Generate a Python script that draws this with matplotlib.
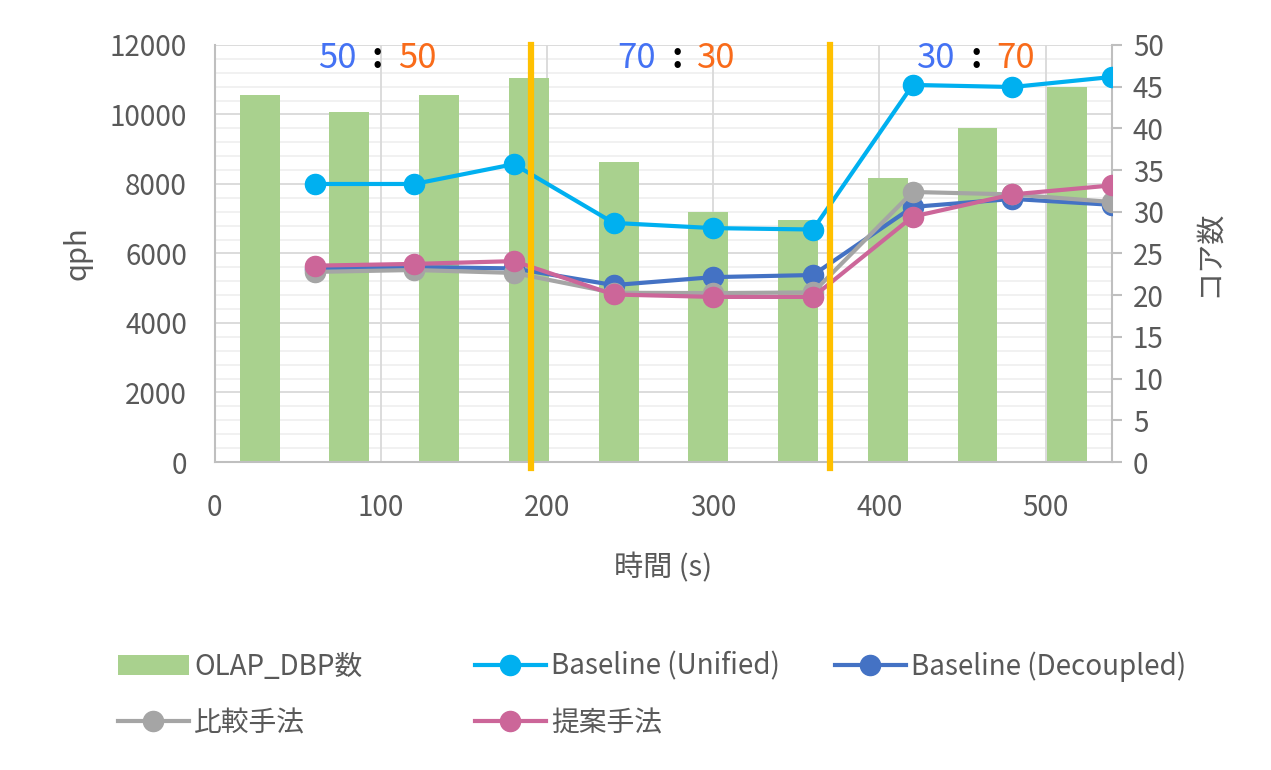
import numpy as np
import matplotlib.pyplot as plt
from matplotlib.ticker import MultipleLocator

plt.rcParams['font.family'] = ['Noto Sans CJK JP', 'DejaVu Sans']

# qph measured every 60 s
times = [60, 120, 180, 240, 300, 360, 420, 480, 540]
unified = [8000, 8000, 8570, 6880, 6730, 6690, 10850, 10790, 11080]
decoupled = [5560, 5610, 5570, 5090, 5320, 5380, 7340, 7570, 7400]
hikaku = [5470, 5525, 5440, 4870, 4860, 4880, 7770, 7700, 7480]
teian = [5650, 5700, 5780, 4820, 4750, 4750, 7060, 7700, 7960]

# OLAP DBP count per slot (right axis)
dbp = [44, 42, 44, 46, 36, 30, 29, 34, 40, 45]
slot_len = 54

# workload switch points and OLTP:OLAP ratios
switch_times = [190, 370]
ratio_left = ['50', '70', '30']
ratio_right = ['50', '30', '70']
ratio_centers = [98, 278, 458]

gray = '#595959'
fig = plt.figure(figsize=(12.71, 7.70), dpi=100)
ax = fig.add_axes([0.169, 0.4, 0.706, 0.5416])
ax2 = ax.twinx()

bar_x = np.arange(len(dbp)) * slot_len + slot_len / 2
ax2.bar(bar_x, dbp, width=24, color='#A9D18E', zorder=1, label='OLAP_DBP数')
ax2.set_ylim(0, 50)
ax2.yaxis.set_major_locator(MultipleLocator(5))

# lines live on the left axis, which sits above the bar axis
ax.set_zorder(ax2.get_zorder() + 1)
ax.patch.set_visible(False)

ax.set_xlim(0, 540)
ax.set_ylim(0, 12000)
ax.yaxis.set_major_locator(MultipleLocator(2000))
ax.xaxis.set_major_locator(MultipleLocator(100))

ax2.grid(False)
# grid drawn on bar axis so it stays behind the bars
for y in np.arange(0, 12001, 400):
    c = '#D9D9D9' if y % 2000 == 0 else '#F0F0F0'
    ax2.axhline(y / 12000 * 50, color=c, lw=1.3, zorder=0)
for x in range(100, 501, 100):
    ax2.axvline(x, color='#D9D9D9', lw=1.3, zorder=0)
ax2.set_xlim(0, 540)

ms = 14.5
lw = 3
l1, = ax.plot(times, unified, '-o', color='#00B0F0', lw=lw, ms=ms, label='Baseline (Unified)', zorder=3)
l2, = ax.plot(times, decoupled, '-o', color='#4472C4', lw=lw, ms=ms, label='Baseline (Decoupled)', zorder=3)
l3, = ax.plot(times, hikaku, '-o', color='#A5A5A5', lw=lw, ms=ms, label='比較手法', zorder=3)
l4, = ax.plot(times, teian, '-o', color='#CC6699', lw=lw, ms=ms, label='提案手法', zorder=3)

for t in switch_times:
    ax.plot([t, t], [-180, 12000], color='#FFC000', lw=4.5, zorder=4, clip_on=False)

for xc, a, b in zip(ratio_centers, ratio_left, ratio_right):
    ax.text(xc - 24, 11620, a, color='#4472F4', fontsize=25, ha='center', va='center')
    ax.text(xc, 11650, ':', color='black', fontsize=25, fontweight='bold', ha='center', va='center')
    ax.text(xc + 24, 11620, b, color='#F96B1A', fontsize=25, ha='center', va='center')

for a in (ax, ax2):
    for s in a.spines.values():
        s.set_visible(False)
for name, a in (('left', ax), ('bottom', ax), ('right', ax2)):
    a.spines[name].set_visible(True)
    a.spines[name].set_color('#BFBFBF')
    a.spines[name].set_linewidth(1.5)

ax.tick_params(axis='both', which='both', length=0, labelsize=20, colors=gray)
ax.tick_params(axis='y', pad=20)
ax.tick_params(axis='x', pad=22)
ax2.tick_params(axis='y', length=7, width=1.5, color='#BFBFBF', labelsize=20,
                labelcolor=gray, pad=8)
ax2.tick_params(axis='x', length=0, labelbottom=False)

ax.set_ylabel('qph', fontsize=21, color=gray, labelpad=12)
ax.set_xlabel('時間 (s)', fontsize=21, color=gray, labelpad=22)
ax2.set_ylabel('コア数', fontsize=21, color=gray, labelpad=22)

# legend laid out as fixed-width columns
bars = ax2.containers[0]
columns = [([bars, l3], 0.0928), ([l1, l4], 0.3737), ([l2], 0.657)]
for hs, x0 in columns:
    fig.legend(hs, [h.get_label() for h in hs], loc='upper left',
               bbox_to_anchor=(x0, 0.1535), borderpad=0, borderaxespad=0,
               frameon=False, fontsize=20, labelcolor=gray, handlelength=2.55,
               handletextpad=0.2, labelspacing=0.95, handleheight=0.75)

fig.savefig('out.png', dpi=100)
